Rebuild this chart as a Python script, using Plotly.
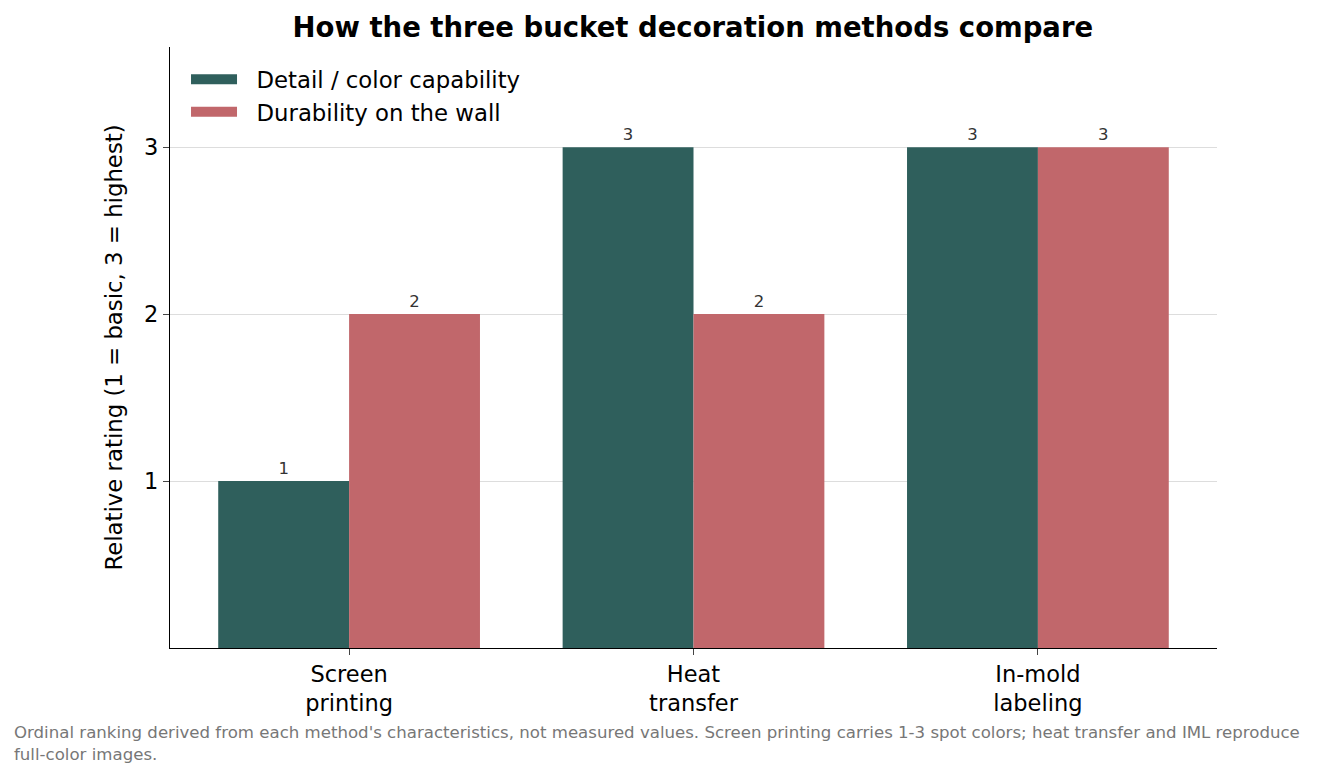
import plotly.graph_objs as go

# data
methods = ["Screen<br>printing", "Heat<br>transfer", "In-mold<br>labeling"]
detail_color = [1, 3, 3]
durability = [2, 2, 3]
series_names = ["Detail / color capability", "Durability on the wall"]
colors = ["#2f5f5c", "#c1676b"]
footnote = ("Ordinal ranking derived from each method's characteristics, not measured values. "
            "Screen printing carries 1-3 spot colors; heat transfer and IML reproduce<br>full-color images.")

FONT = "DejaVu Sans"

fig = go.Figure()

for vals, name, col in zip([detail_color, durability], series_names, colors):
    fig.add_trace(go.Bar(x=methods, y=vals, name=name, legendgroup=name, showlegend=False,
                         marker=dict(color=col, line=dict(width=0)),
                         text=vals, textposition="outside",
                         textfont=dict(size=16.5, color="#333333"), cliponaxis=False))

# legend entries with wide rectangular swatches (nbsp gives the gap to the text)
for name, col in zip(series_names, colors):
    fig.add_trace(go.Scatter(x=[None], y=[None], mode="lines", name="\u00a0\u00a0" + name,
                             legendgroup=name, line=dict(color=col, width=15), hoverinfo="skip"))

# page body has an 8px margin, so margins are shifted by 8
fig.update_layout(
    width=1317, height=779,
    barmode="group", bargap=0.24, bargroupgap=0,
    plot_bgcolor="white", paper_bgcolor="white",
    font=dict(family=FONT, size=22.5, color="black"),
    title=dict(text="<b>How the three bucket decoration methods compare</b>",
               x=0.520, xanchor="center", y=0.9756, yanchor="middle",
               font=dict(size=27.5, color="black")),
    margin=dict(l=162, r=108, t=39, b=139),
    legend=dict(x=0.0153, y=0.982, xanchor="left", yanchor="top", itemwidth=46,
                tracegroupgap=0,
                bgcolor="rgba(255,255,255,0)", font=dict(size=22.8)),
    showlegend=True,
)

fig.update_yaxes(range=[0, 3.6], tickvals=[1, 2, 3], ticks="outside", ticklen=6,
                 showline=True, linecolor="black", linewidth=1.2,
                 showgrid=True, gridcolor="#dddddd", zeroline=False,
                 tickfont=dict(size=22.5),
                 title=dict(text="Relative rating (1 = basic, 3 = highest)", font=dict(size=22.8)))
fig.update_xaxes(range=[-0.52, 2.52], ticks="outside", ticklen=6,
                 showline=True, linecolor="black", linewidth=1.2,
                 tickfont=dict(size=22.5))

# footnote
fig.add_annotation(text=footnote, xref="paper", yref="paper",
                   x=-0.151, y=-0.122, xanchor="left", yanchor="top",
                   showarrow=False, align="left",
                   font=dict(size=16.6, color="#777777"))

fig.write_html("out.html")
